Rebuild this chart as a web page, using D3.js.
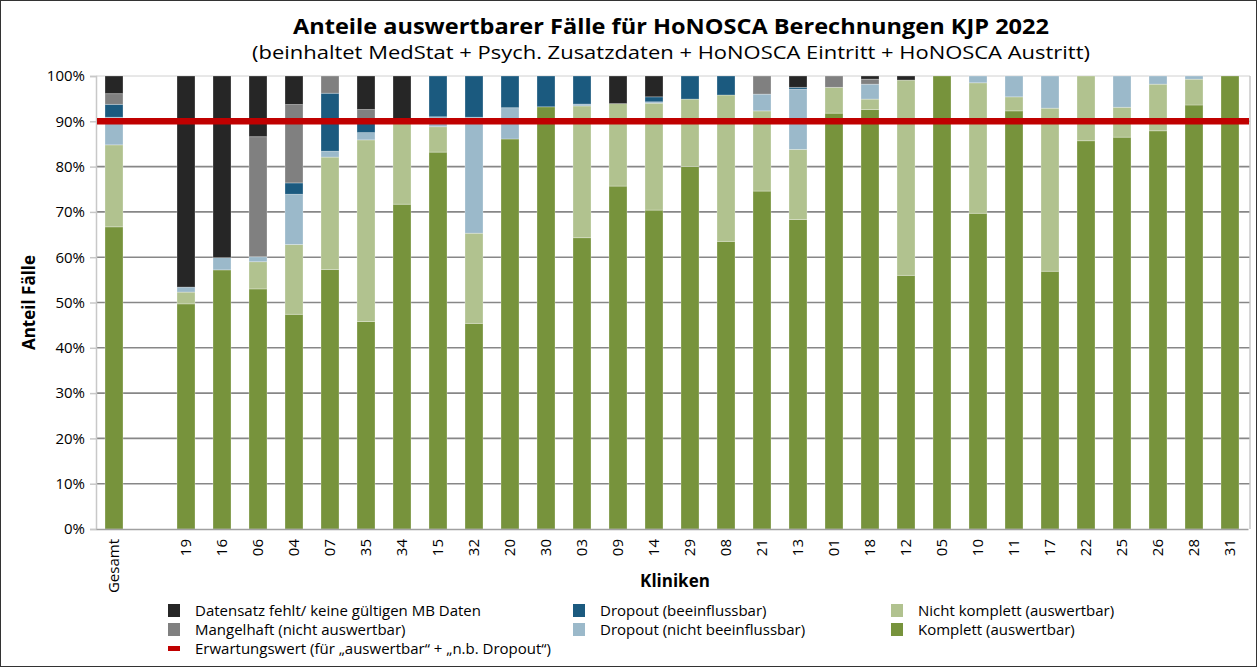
<!DOCTYPE html>
<html>
<head>
<meta charset="utf-8">
<script src="https://cdn.jsdelivr.net/npm/d3@7"></script>
<style>
  body { margin: 0; background: #fff; }
  svg { font-family: "Open Sans", "Noto Sans", sans-serif; }
</style>
</head>
<body>
<div id="chart"></div>
<script>

// categories (blank slot after Gesamt)
const kliniken = ["Gesamt", "", "19", "16", "06", "04", "07", "35", "34", "15", "32", "20", "30", "03", "09", "14",
    "29", "08", "21", "13", "01", "18", "12", "05", "10", "11", "17", "22", "25", "26", "28", "31"]

// series values in %, bottom to top
const komplett      = [66.7, 0, 49.7, 57.2, 53.0, 47.4, 57.3, 45.8, 71.7, 83.2, 45.4, 86.1, 93.2, 64.3, 75.7, 70.4,
    80.0, 63.5, 74.6, 68.3, 91.8, 92.6, 56.0, 100, 69.7, 92.3, 56.9, 85.7, 86.5, 87.9, 93.6, 100]
const nichtKomplett = [18.1, 0, 2.6, 0, 6.0, 15.4, 24.8, 40.1, 18.7, 5.6, 19.9, 0, 0, 29.1, 18.2, 23.6,
    14.9, 32.3, 17.7, 15.5, 5.7, 2.3, 43.1, 0, 28.8, 3.1, 36.0, 14.3, 6.6, 10.3, 5.7, 0]
const dropoutNB     = [6.1, 0, 1.1, 2.7, 1.1, 11.1, 1.3, 1.6, 0, 2.2, 25.6, 6.9, 0, 0.4, 0, 0.3,
    0, 0, 3.7, 13.3, 0, 3.3, 0, 0, 1.5, 4.6, 7.1, 0, 6.9, 1.8, 0.7, 0]
const dropoutB      = [2.85, 0, 0, 0, 0, 2.5, 12.8, 2.8, 0, 9.0, 9.1, 7.0, 6.8, 6.2, 0, 1.1,
    5.1, 4.2, 0, 0.4, 0, 0, 0, 0, 0, 0, 0, 0, 0, 0, 0, 0]
const mangelhaft    = [2.35, 0, 0, 0, 26.5, 17.3, 3.8, 2.3, 0, 0, 0, 0, 0, 0, 0, 0,
    0, 0, 4.0, 0, 2.5, 1.1, 0, 0, 0, 0, 0, 0, 0, 0, 0, 0]
const fehlt         = [3.9, 0, 46.6, 40.1, 13.4, 6.3, 0, 7.4, 9.6, 0, 0, 0, 0, 0, 6.1, 4.6,
    0, 0, 0, 2.5, 0, 0.7, 0.9, 0, 0, 0, 0, 0, 0, 0, 0, 0]

const erwartungswert = 90
const yTicks = [0, 10, 20, 30, 40, 50, 60, 70, 80, 90, 100]

const seriesNames = ["Komplett (auswertbar)", "Nicht komplett (auswertbar)", "Dropout (nicht beeinflussbar)",
    "Dropout (beeinflussbar)", "Mangelhaft (nicht auswertbar)", "Datensatz fehlt/ keine gültigen MB Daten"]
const seriesColors = ["#77933c", "#b1c28f", "#9bb9ca", "#1b5a7f", "#808080", "#262626"]
const seriesValues = [komplett, nichtKomplett, dropoutNB, dropoutB, mangelhaft, fehlt]

const width = 1259, height = 667
const margin = {top: 76, right: 9, bottom: 137, left: 96}

const svg = d3.select("#chart").append("svg")
    .attr("width", width)
    .attr("height", height)

// outer frame
svg.append("rect")
    .attr("x", 0.5).attr("y", 0.5)
    .attr("width", width - 3).attr("height", height - 1)
    .attr("fill", "none").attr("stroke", "#333")

// build table for stack
let table = kliniken.map((k, i) => {
    let row = {klinik: i}
    seriesNames.forEach((s, j) => row[s] = seriesValues[j][i])
    return row
})
let stacked = d3.stack().keys(seriesNames)(table)

let x = d3.scaleBand()
    .domain(d3.range(kliniken.length))
    .range([margin.left, width - margin.right - 2])
    .paddingInner(0.5)
    .paddingOuter(0.25)

let y = d3.scaleLinear()
    .domain([0, 100])
    .range([height - margin.bottom - 1, margin.top])

let plotRight = width - margin.right
let g = svg.append("g")

// gridlines
g.selectAll(".grid")
    .data(yTicks.filter(d => d > 0 && d < 100))
    .enter().append("line")
    .attr("x1", margin.left).attr("x2", plotRight)
    .attr("y1", d => y(d)).attr("y2", d => y(d))
    .attr("stroke", "#878787").attr("stroke-width", 1.6)

// plot border (top/right light)
g.append("line").attr("x1", margin.left).attr("x2", plotRight)
    .attr("y1", y(100)).attr("y2", y(100)).attr("stroke", "#d0d0d0").attr("stroke-width", 1)
g.append("line").attr("x1", plotRight).attr("x2", plotRight)
    .attr("y1", y(100)).attr("y2", y(0)).attr("stroke", "#c8c8c8").attr("stroke-width", 1.5)

// bars
g.selectAll(".layer")
    .data(stacked)
    .enter().append("g")
    .attr("fill", (d, i) => seriesColors[i])
    .selectAll("rect")
    .data(d => d.filter(v => v[1] - v[0] > 0))
    .enter().append("rect")
    .attr("x", d => x(d.data.klinik))
    .attr("width", x.bandwidth())
    .attr("y", d => y(d[1]))
    .attr("height", d => y(d[0]) - y(d[1]))
    .attr("stroke", "rgba(255,255,255,0.35)")
    .attr("stroke-width", 0.8)

// axes
let yAxis = d3.axisLeft(y).tickValues(yTicks).tickFormat(d => d + "%").tickSize(6)
let yg = svg.append("g").attr("transform", `translate(${margin.left},0)`).call(yAxis)
yg.select(".domain").attr("stroke", "#c8c8c8").attr("stroke-width", 1.5)
yg.selectAll(".tick line").attr("stroke", "#c8c8c8").attr("stroke-width", 1.5)
yg.selectAll("text").attr("font-size", 15).attr("fill", "#000").attr("x", -11)
    .attr("font-family", "'Open Sans', sans-serif")

let xAxis = d3.axisBottom(x).tickFormat(i => kliniken[i]).tickSize(0)
let xg = svg.append("g").attr("transform", `translate(0,${y(0)})`).call(xAxis)
xg.select(".domain").attr("stroke", "#a0a0a0").attr("stroke-width", 1.5)
xg.selectAll("text")
    .attr("font-size", 15).attr("fill", "#000")
    .attr("font-family", "'Open Sans', sans-serif")
    .attr("transform", "rotate(-90)")
    .attr("text-anchor", "end")
    .attr("dy", "0.35em")
    .attr("x", -10).attr("y", 0)

// expected value line
svg.append("line")
    .attr("x1", margin.left + 1).attr("x2", plotRight - 1)
    .attr("y1", y(erwartungswert)).attr("y2", y(erwartungswert))
    .attr("stroke", "#c00000").attr("stroke-width", 6.5)

// titles
svg.append("text").attr("x", 671).attr("y", 34)
    .attr("text-anchor", "middle").attr("font-size", 22).attr("font-weight", "bold")
    .attr("textLength", 756).attr("lengthAdjust", "spacingAndGlyphs")
    .text("Anteile auswertbarer Fälle für HoNOSCA Berechnungen KJP 2022")
svg.append("text").attr("x", 671).attr("y", 59)
    .attr("text-anchor", "middle").attr("font-size", 19)
    .attr("textLength", 838).attr("lengthAdjust", "spacingAndGlyphs")
    .text("(beinhaltet MedStat + Psych. Zusatzdaten + HoNOSCA Eintritt + HoNOSCA Austritt)")

svg.append("text")
    .attr("transform", `translate(35,${y(50)}) rotate(-90)`)
    .attr("text-anchor", "middle").attr("font-size", 17).attr("font-weight", "bold")
    .text("Anteil Fälle")

svg.append("text").attr("x", 675).attr("y", 587)
    .attr("text-anchor", "middle").attr("font-size", 17).attr("font-weight", "bold")
    .text("Kliniken")

// legend
let legendItems = [
    {label: seriesNames[5], color: seriesColors[5], col: 0, row: 0},
    {label: seriesNames[4], color: seriesColors[4], col: 0, row: 1},
    {label: "Erwartungswert (für „auswertbar“ + „n.b. Dropout“)", color: "#c00000", col: 0, row: 2, line: true},
    {label: seriesNames[3], color: seriesColors[3], col: 1, row: 0},
    {label: seriesNames[2], color: seriesColors[2], col: 1, row: 1},
    {label: seriesNames[1], color: seriesColors[1], col: 2, row: 0},
    {label: seriesNames[0], color: seriesColors[0], col: 2, row: 1}
]
let colX = [168, 573, 891]
let legend = svg.append("g")
let li = legend.selectAll("g").data(legendItems).enter().append("g")
    .attr("transform", d => `translate(${colX[d.col]},${611 + d.row * 19})`)
li.append("rect")
    .attr("x", 0)
    .attr("y", d => d.line ? -3 : -7)
    .attr("width", 12)
    .attr("height", d => d.line ? 5 : 13)
    .attr("fill", d => d.color)
li.append("text")
    .attr("x", 27).attr("dy", "0.35em")
    .attr("font-size", 15)
    .text(d => d.label)

</script>
</body>
</html>
